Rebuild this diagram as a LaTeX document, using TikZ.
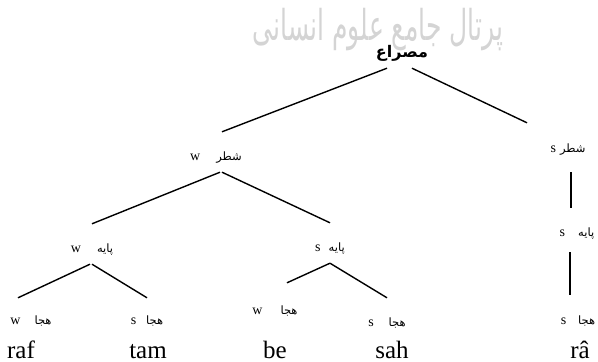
\documentclass[tikz,border=0pt]{standalone}
\usepackage{fontspec}
\usepackage{graphicx}
\setmainfont{Liberation Serif}
\newfontfamily\arabicfont[Script=Arabic]{DejaVu Sans}
\TeXXeTstate=1
\usepackage{tikz}
\usetikzlibrary{calc}
\definecolor{wmark}{HTML}{D4D4D4}
\newcommand{\farsi}[1]{{\arabicfont\fontsize{11.5}{11.5}\selectfont\beginR #1\endR}}
\tikzset{
  lab/.style={anchor=base,inner sep=0pt,text height=28pt,text depth=12pt,font=\fontsize{14}{14}\selectfont},
  word/.style={anchor=base,inner sep=0pt,font=\fontsize{25}{25}\selectfont},
  br/.style={line width=1.4pt}
}

\begin{document}
\begin{tikzpicture}[x=1pt,y=-1pt]
\useasboundingbox (0,0) rectangle (598,362);
\node[text=wmark,font=\fontsize{25}{25}\selectfont] (wm) at (378,30) {\scalebox{1}[1.7]{\arabicfont\beginR پرتال جامع علوم انسانی\endR}};
\node[anchor=base,inner sep=0pt,text depth=11pt] (root) at (402,57) {{\arabicfont\bfseries\fontsize{16}{16}\selectfont\beginR مصراع\endR}};
\node[lab] (shL) at (216,160) {w\hspace{16pt}\farsi{شطر}};
\node[lab,text height=29pt,text depth=20pt] (shR) at (568,152) {s\hspace{4pt}\farsi{شطر}};
\node[lab] (pL) at (92,252) {w\hspace{16pt}\farsi{پایه}};
\node[lab] (pR) at (330,251) {s\hspace{8pt}\farsi{پایه}};
\node[lab,text depth=16pt] (pRR) at (577,236) {s\hspace{13pt}\farsi{پایه}};
\node[lab,text height=26pt] (h1) at (31,324) {w\hspace{14pt}\farsi{هجا}};
\node[lab,text height=26pt] (h2) at (147,324) {s\hspace{10pt}\farsi{هجا}};
\node[lab,text height=31pt] (h3) at (275,314) {w\hspace{18pt}\farsi{هجا}};
\node[lab] (h4) at (387,326) {s\hspace{15pt}\farsi{هجا}};
\node[lab,text height=29pt] (h5) at (578,324) {s\hspace{12pt}\farsi{هجا}};
\node[word] (raf) at (21,358) {raf};
\node[word] (tam) at (148,358) {tam};
\node[word] (be) at (275,358) {be};
\node[word] (sah) at (392,358) {sah};
\node[word] (ra) at (580,358) {râ};
\coordinate (v1) at ([xshift=3pt]shR.south);
\coordinate (v2) at ([xshift=-7pt]pRR.south);
\draw[br] ([xshift=-15pt]root.south) -- ([xshift=6pt]shL.north);
\draw[br] ([xshift=10pt]root.south) -- ([xshift=-41pt]shR.north);
\draw[br] ([xshift=4pt]shL.south) -- (pL.north);
\draw[br] ([xshift=6pt]shL.south) -- (pR.north);
\draw[br] (v1) -- (v1 |- pRR.north);
\draw[br] (v2) -- (v2 |- h5.north);
\draw[br] ([xshift=-2pt]pL.south) -- ([xshift=-13pt]h1.north);
\draw[br] (pL.south) -- (h2.north);
\draw[br] (pR.south) -- ([xshift=12pt]h3.north);
\draw[br] (pR.south) -- (h4.north);
\end{tikzpicture}
\end{document}
